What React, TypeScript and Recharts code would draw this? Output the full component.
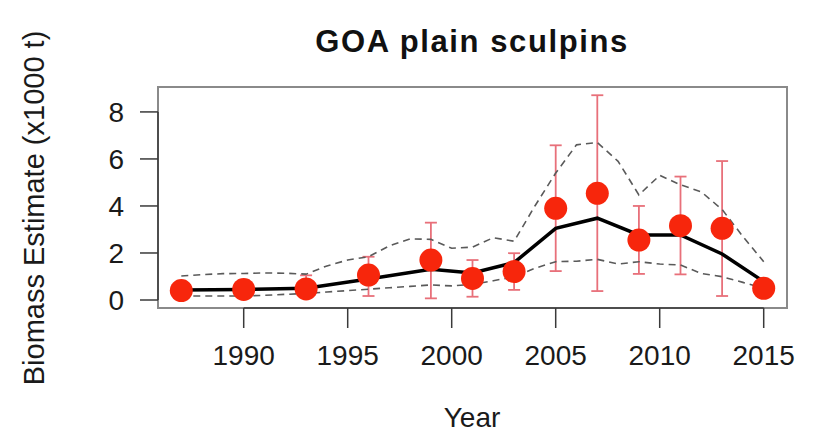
import React from 'react';
import {
  ComposedChart,
  Line,
  Scatter,
  ErrorBar,
  XAxis,
  YAxis,
  ReferenceArea,
  ReferenceLine,
} from 'recharts';

// survey years with observed biomass and its CI (x1000 t)
const surveyYears = [1987, 1990, 1993, 1996, 1999, 2001, 2003, 2005, 2007, 2009, 2011, 2013, 2015];
const observed = [0.40, 0.45, 0.47, 1.06, 1.70, 0.92, 1.21, 3.90, 4.54, 2.55, 3.16, 3.05, 0.50];
const obsLower = [0.22, 0.18, 0.20, 0.17, 0.07, 0.14, 0.43, 1.23, 0.38, 1.11, 1.09, 0.17, 0.32];
const obsUpper = [0.60, 0.85, 1.05, 1.84, 3.29, 1.70, 1.99, 6.58, 8.71, 4.00, 5.25, 5.91, 0.70];
const fitted = [0.43, 0.45, 0.50, 0.89, 1.31, 1.15, 1.59, 3.05, 3.48, 2.77, 2.77, 1.96, 0.78];

// annual model interval
const modelYears = [
  1987, 1988, 1989, 1990, 1991, 1992, 1993, 1994, 1995, 1996, 1997, 1998, 1999, 2000, 2001,
  2002, 2003, 2004, 2005, 2006, 2007, 2008, 2009, 2010, 2011, 2012, 2013, 2014, 2015,
];
const modelUpper = [
  1.02, 1.08, 1.12, 1.13, 1.15, 1.14, 1.10, 1.45, 1.70, 1.84, 2.30, 2.60, 2.58, 2.20, 2.25,
  2.65, 2.50, 4.00, 5.40, 6.60, 6.70, 5.90, 4.47, 5.30, 4.90, 4.60, 3.85, 2.70, 1.63,
];
const modelLower = [
  0.17, 0.17, 0.17, 0.17, 0.20, 0.24, 0.28, 0.34, 0.40, 0.46, 0.52, 0.58, 0.64, 0.60, 0.66,
  0.82, 0.99, 1.35, 1.63, 1.65, 1.73, 1.53, 1.63, 1.53, 1.49, 1.13, 0.99, 0.75, 0.50,
];

const xTicks = [1990, 1995, 2000, 2005, 2010, 2015];
const yTicks = [0, 2, 4, 6, 8];
const xDomain: [number, number] = [1985.88, 2016.12];
const yDomain: [number, number] = [-0.34, 9.06];

const surveyData = surveyYears.map((year, i) => ({
  year,
  obs: observed[i],
  fit: fitted[i],
  err: [observed[i] - obsLower[i], obsUpper[i] - observed[i]],
}));

const modelData = modelYears.map((year, i) => ({
  year,
  hi: modelUpper[i],
  lo: modelLower[i],
}));

const FONT = '"Liberation Sans", Arial, Helvetica, sans-serif';
const tickStyle = { fill: '#1a1a1a', fontSize: 28, fontFamily: FONT };

const Dot = (props: any) => {
  const { cx, cy } = props;
  if (cx == null || cy == null) return null;
  return <circle cx={cx} cy={cy} r={11.5} fill="#f7260c" />;
};

export default function App() {
  return (
    <div style={{ position: 'absolute', left: 0, top: 0, width: 819, height: 433, background: '#fff' }}>
      <ComposedChart
        width={819}
        height={433}
        margin={{ top: 87, right: 32, bottom: 65, left: 98 }}
      >
        <XAxis
          type="number"
          dataKey="year"
          domain={xDomain}
          ticks={xTicks}
          allowDataOverflow
          axisLine={false}
          tickLine={{ stroke: '#3a3a3a', strokeWidth: 1.5 }}
          tickSize={20}
          tickMargin={17}
          height={60}
          tick={tickStyle}
        />
        <YAxis
          type="number"
          dataKey="obs"
          domain={yDomain}
          ticks={yTicks}
          allowDataOverflow
          axisLine={false}
          tickLine={{ stroke: '#3a3a3a', strokeWidth: 1.5 }}
          tickSize={18}
          tickMargin={16}
          width={60}
          tick={tickStyle}
        />
        <ReferenceArea
          x1={xDomain[0]}
          x2={xDomain[1]}
          y1={yDomain[0]}
          y2={yDomain[1]}
          fill="none"
          stroke="#8a8a8a"
          strokeWidth={2}
          ifOverflow="visible"
        />
        <ReferenceLine
          segment={[{ x: xTicks[0], y: yDomain[0] }, { x: xTicks[xTicks.length - 1], y: yDomain[0] }]}
          stroke="#3a3a3a"
          strokeWidth={1.5}
          ifOverflow="visible"
        />
        <ReferenceLine
          segment={[{ x: xDomain[0], y: yTicks[0] }, { x: xDomain[0], y: yTicks[yTicks.length - 1] }]}
          stroke="#3a3a3a"
          strokeWidth={1.5}
          ifOverflow="visible"
        />
        <Scatter data={surveyData} dataKey="obs" shape={<Dot />} isAnimationActive={false}>
          <ErrorBar dataKey="err" direction="y" width={6} stroke="#e8707a" strokeWidth={1.8} />
        </Scatter>
        <Line
          data={modelData}
          dataKey="hi"
          type="linear"
          stroke="#5a5a5a"
          strokeWidth={1.6}
          strokeDasharray="7 5"
          dot={false}
          activeDot={false}
          isAnimationActive={false}
        />
        <Line
          data={modelData}
          dataKey="lo"
          type="linear"
          stroke="#5a5a5a"
          strokeWidth={1.6}
          strokeDasharray="7 5"
          dot={false}
          activeDot={false}
          isAnimationActive={false}
        />
        <Line
          data={surveyData}
          dataKey="fit"
          type="linear"
          stroke="#000"
          strokeWidth={3.5}
          dot={false}
          activeDot={false}
          isAnimationActive={false}
        />
      </ComposedChart>
      <svg
        width={819}
        height={433}
        style={{ position: 'absolute', left: 0, top: 0, pointerEvents: 'none' }}
      >
        <text
          x={472}
          y={52}
          textAnchor="middle"
          fontFamily={FONT}
          fontWeight="bold"
          fontSize={31}
          letterSpacing={1.6}
          fill="#111"
        >
          GOA plain sculpins
        </text>
        <text x={472} y={427} textAnchor="middle" fontFamily={FONT} fontSize={28} fill="#1a1a1a">
          Year
        </text>
        <text
          x={0}
          y={0}
          transform="translate(44 208) rotate(-90)"
          textAnchor="middle"
          fontFamily={FONT}
          fontSize={29}
          fill="#1a1a1a"
        >
          Biomass Estimate (x1000 t)
        </text>
      </svg>
    </div>
  );
}
